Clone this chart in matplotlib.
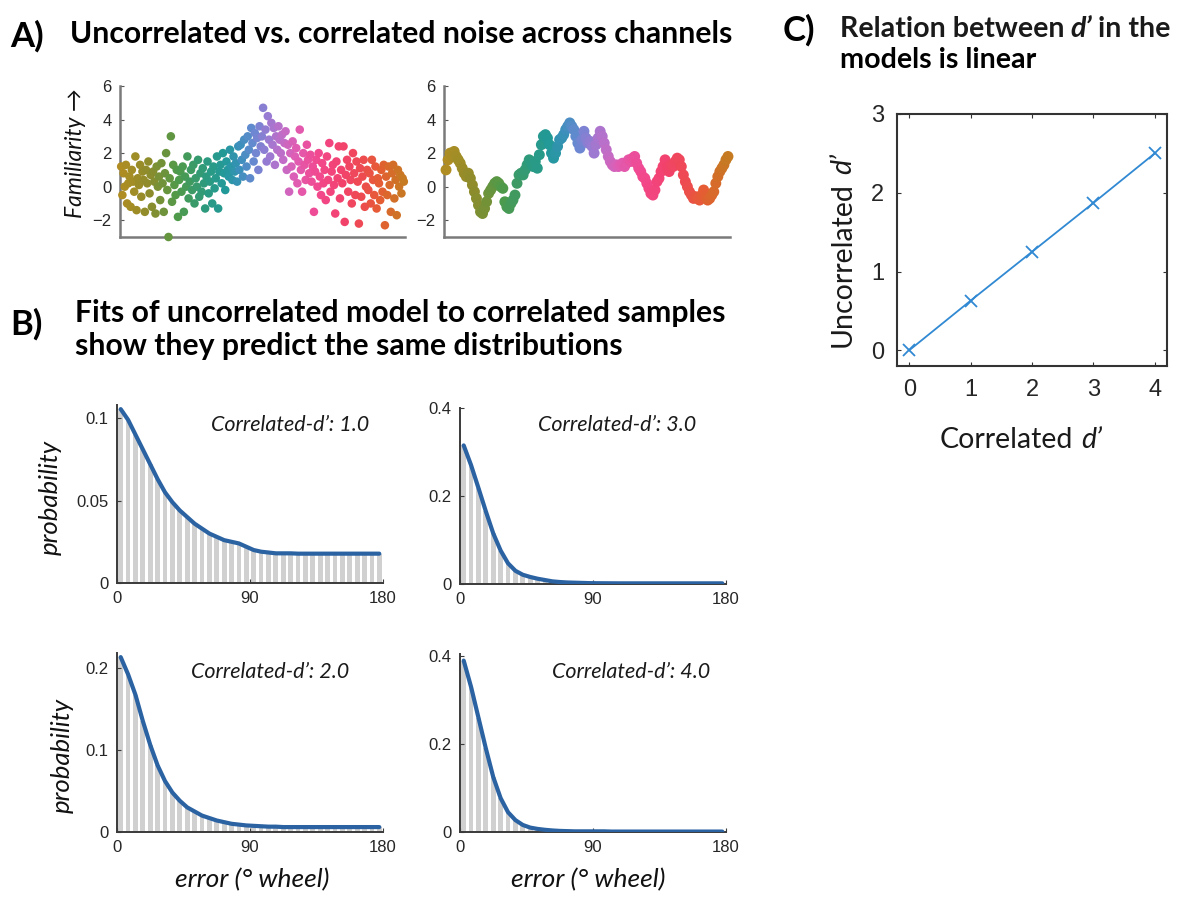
import numpy as np
import matplotlib
matplotlib.use('Agg')
import matplotlib.pyplot as plt
from matplotlib.colors import LinearSegmentedColormap

W, H = 1199, 900

# ---- panel A: familiarity samples across the colour wheel ----
uncorr_y = [
    1.2, -0.5, 0.8, 0.0, 1.3, -1.0, 0.2, 0.6, -1.2, 1.0, 0.3, -0.3, 1.8, -1.4, 0.5, 0.1, 1.3, -0.6, 0.9, 0.4,
    -1.5, 1.0, 0.2, 1.5, -0.4, 0.7, -1.2, 0.9, 0.3, -1.6, 1.2, 0.0, 0.6, -0.8, 1.4, 0.2, -1.5, 0.8, 2.0, -0.2,
    -3.0, 0.5, 3.0, -0.9, 1.3, 0.1, -0.5, 1.0, -1.8, 0.4, 0.9, -0.3, 1.2, -1.5, 0.6, 0.0, 1.8, -0.7, 0.3, 1.0,
    -0.2, 1.3, -1.0, 0.5, 0.0, 1.6, -0.6, 0.8, -0.3, 1.1, 0.2, -1.3, 0.6, 1.5, -0.4, 0.3, 0.9, -1.0, 1.2, -0.1,
    0.5, 1.8, -1.3, 0.9, 1.3, 0.2, 2.0, 0.8, -0.2, 1.5, 1.0, 0.6, 2.2, 1.2, 0.4, 1.8, 0.9, 1.4, 0.3, 2.4,
    1.0, 2.5, 1.6, 0.6, 2.8, 1.9, 1.2, 3.0, 2.2, 0.5, 3.5, 2.6, 1.5, 3.2, 2.0, 2.9, 1.0, 3.6, 2.4, 3.0,
    4.7, 2.2, 3.4, 1.5, 4.2, 2.8, 1.8, 3.8, 2.5, 3.5, 1.3, 3.0, 2.2, 3.6, 2.8, 2.0, 3.1, 1.6, 2.6, 3.3,
    1.0, 2.5, -0.3, 2.0, 1.2, 2.7, 0.6, 1.8, 2.3, 0.2, 1.5, 3.4, 1.0, -0.3, 2.0, 1.3, 0.4, 2.5, 1.6, 0.8,
    1.9, 0.3, 1.2, -1.5, 0.9, 1.6, 0.0, 2.0, 0.6, -0.5, 1.4, 0.2, 1.0, -0.8, 1.8, 0.4, 2.6, -0.3, 0.9, 1.3,
    0.1, -1.6, 1.5, 0.5, 2.4, -0.7, 1.0, 0.2, 2.4, -2.1, 0.7, 1.6, -0.3, 1.2, 0.4, -1.0, 2.0, 0.8, -0.5, 1.5,
    0.3, -2.2, 1.1, -0.6, 0.6, 1.6, -1.2, 0.0, 1.0, -0.2, 0.8, -1.0, 1.6, 0.4, -0.5, 1.2, -1.3, 0.5, 0.2, -0.8,
    1.0, -0.3, 1.3, -2.3, 0.6, -0.5, 1.2, 0.1, -1.5, 0.8, 1.3, -0.7, 0.4, -1.7, 1.0, 0.0, 0.7, -0.4, 0.5, 0.3,
]
corr_y = [
    1.0, 1.6, 2.0, 1.8, 2.1, 1.8, 1.6, 1.4, 1.1,
    0.8, 0.6, 0.8, 0.5, 0.1, -0.3, -0.7, -1.1, -1.5, -1.6,
    -1.3, -0.9, -0.4, -0.2, 0.0, 0.2, 0.3, 0.2, 0.0, -0.1,
    -0.9, -1.2, -1.3, -1.0, -0.8, -0.5, 0.2, 0.7, 0.8, 0.7,
    1.0, 1.3, 1.6, 1.4, 1.2, 1.5, 1.1, 1.9, 2.5, 3.0,
    3.1, 2.9, 2.5, 2.0, 1.7, 2.0, 2.4, 2.8, 2.9, 3.1,
    3.4, 3.6, 3.8, 3.6, 3.4, 3.0, 2.6, 2.3, 2.8, 3.3,
    2.9, 2.6, 2.7, 2.4, 2.0, 2.5, 2.9, 3.3, 3.0, 2.6,
    2.2, 1.8, 1.5, 1.3, 1.2, 1.3, 1.2, 1.3, 1.4, 1.2,
    1.4, 1.6, 1.5, 1.7, 1.8, 1.4, 1.1, 0.9, 0.6, 0.5,
    0.2, -0.1, -0.4, -0.5, -0.2, 0.3, 0.5, 0.9, 1.2, 1.6,
    1.2, 0.9, 1.3, 1.2, 1.5, 1.7, 1.6, 1.2, 0.7, 0.3,
    0.0, -0.3, -0.5, -0.7, -0.6, -0.7, -0.8, -0.5, -0.2, -0.6,
    -0.8, -0.7, -0.5, -0.3, 0.2, 0.6, 0.9, 1.1, 1.3, 1.6, 1.8,
]

# colour wheel used for the sample colours (position along wheel -> colour)
wheel_pos = [0.00, 0.10, 0.20, 0.30, 0.37, 0.42, 0.47, 0.52, 0.57, 0.62, 0.70, 0.78, 0.85, 0.92, 1.00]
wheel_hex = ['#b08d22', '#8c8c2c', '#4f9a4a', '#2c9a7e', '#22999a', '#3a90ba', '#6a88d2', '#9a7ad2',
             '#c06ec8', '#e05cb2', '#f2488e', '#f2426e', '#ee4a52', '#e45e32', '#c67a22']

# ---- panel B: error histograms and fitted curves (5 deg bins) ----
bin_centers = np.arange(2.5, 180, 5)
prob_d1 = [0.1055, 0.099, 0.090, 0.081, 0.072, 0.063, 0.055, 0.049, 0.044, 0.040, 0.036, 0.033,
           0.030, 0.028, 0.026, 0.025, 0.024, 0.022, 0.020, 0.019, 0.0185, 0.018, 0.018, 0.018,
           0.0178, 0.0178, 0.0178, 0.0178, 0.0178, 0.0178, 0.0178, 0.0178, 0.0178, 0.0178, 0.0178, 0.0178]
prob_d2 = [0.213, 0.192, 0.167, 0.135, 0.106, 0.081, 0.062, 0.048, 0.038, 0.030, 0.025, 0.020,
           0.017, 0.014, 0.012, 0.010, 0.009, 0.008, 0.0075, 0.007, 0.0065, 0.0065, 0.006, 0.006,
           0.006, 0.006, 0.006, 0.006, 0.006, 0.006, 0.006, 0.006, 0.006, 0.006, 0.006, 0.006]
prob_d3 = [0.315, 0.27, 0.218, 0.165, 0.115, 0.076, 0.047, 0.030, 0.021, 0.016, 0.012, 0.009,
           0.006, 0.0045, 0.0035, 0.003, 0.0025, 0.002, 0.0018, 0.0017, 0.0016, 0.0015, 0.0015, 0.0015,
           0.0015, 0.0015, 0.0015, 0.0015, 0.0015, 0.0015, 0.0015, 0.0015, 0.0015, 0.0015, 0.0015, 0.0015]
prob_d4 = [0.39, 0.33, 0.26, 0.19, 0.125, 0.077, 0.045, 0.027, 0.016, 0.010, 0.007, 0.005,
           0.0035, 0.0025, 0.002, 0.0015, 0.0015, 0.0015, 0.0015, 0.0015, 0.001, 0.001, 0.001, 0.001,
           0.001, 0.001, 0.001, 0.001, 0.001, 0.001, 0.001, 0.001, 0.001, 0.001, 0.001, 0.001]

# ---- panel C ----
corr_dprime = [0, 1, 2, 3, 4]
uncorr_dprime = [0, 0.63, 1.25, 1.87, 2.5]

plt.rcParams['font.family'] = ['Lato', 'DejaVu Sans']
TICKFONT = 'Liberation Sans'
TICKCOL = '#262626'
TITLE_SIZE = 21.7

fig = plt.figure(figsize=(W / 100, H / 100), dpi=100)
fig.patch.set_facecolor('white')
wheel = LinearSegmentedColormap.from_list('wheel', list(zip(wheel_pos, wheel_hex)))


def fx(px):
    return px / W


def fy(py):
    return 1 - py / H


def ax_px(l, t, r, b):
    return fig.add_axes([l / W, 1 - b / H, (r - l) / W, (b - t) / H])


def style_ticks(ax, size, col):
    ax.tick_params(direction='in', length=3, width=0.8, colors=col, labelsize=size, pad=6)
    for lab in ax.get_xticklabels() + ax.get_yticklabels():
        lab.set_fontfamily(TICKFONT)
        lab.set_color(TICKCOL)


def pieces(x, y, parts, size, vertical=False, gap=0.27):
    """Write consecutive text pieces with different styles (x, y in pixels)."""
    r = fig.canvas.get_renderer()
    pos = x if not vertical else y
    for s, weight, style in parts:
        if vertical:
            t = fig.text(fx(x), fy(pos), s, rotation=90, ha='center', va='bottom',
                         fontsize=size, fontweight=weight, fontstyle=style, color='#1a1a1a')
            pos -= t.get_window_extent(r).height + gap * size * 1.39
        else:
            t = fig.text(fx(pos), fy(y), s, ha='left', va='baseline',
                         fontsize=size, fontweight=weight, fontstyle=style, color='#1a1a1a')
            pos += t.get_window_extent(r).width + gap * size * 1.39


# ===== Panel A =====
for ax_box, vals, msize in [((120, 86, 405, 237), uncorr_y, 38), ((444, 86, 730, 237), corr_y, 62)]:
    ax = ax_px(*ax_box)
    n = len(vals)
    xs = np.arange(n)
    ax.scatter(xs, vals, s=msize, c=xs / (n - 1), cmap=wheel, vmin=0, vmax=1,
               edgecolors='none', clip_on=False, zorder=3)
    ax.set_xlim(-1, n)
    ax.set_ylim(-3, 6)
    ax.set_yticks([-2, 0, 2, 4, 6])
    ax.set_xticks([])
    for sp in ['top', 'right']:
        ax.spines[sp].set_visible(False)
    for sp in ['left', 'bottom']:
        ax.spines[sp].set_color('#7a7a7a')
        ax.spines[sp].set_linewidth(1.8)
    style_ticks(ax, 12, '#555555')

fig.text(fx(76), fy(153), 'Familiarity \u2192', rotation=90, ha='center', va='center',
         fontsize=16.5, fontstyle='italic', color='#111111')
fig.text(fx(10), fy(47), 'A)', fontsize=25, fontweight='bold', ha='left', va='baseline')
fig.text(fx(70), fy(43), 'Uncorrelated vs. correlated noise across channels', fontsize=TITLE_SIZE,
         fontweight='bold', ha='left', va='baseline')

# ===== Panel B =====
panels = [
    ((117, 405, 383, 583), prob_d1, 0.108, [0, 0.05, 0.1], ['0', '0.05', '0.1'], '1.0', (290, 425)),
    ((460, 408, 726, 584), prob_d3, 0.4, [0, 0.2, 0.4], ['0', '0.2', '0.4'], '3.0', (617, 425)),
    ((117, 653, 383, 832), prob_d2, 0.218, [0, 0.1, 0.2], ['0', '0.1', '0.2'], '2.0', (270, 672)),
    ((460, 654, 726, 832), prob_d4, 0.405, [0, 0.2, 0.4], ['0', '0.2', '0.4'], '4.0', (631, 672)),
]
for box, prob, ytop, yt, ytl, lab, (tx, ty) in panels:
    ax = ax_px(*box)
    ax.bar(bin_centers, prob, width=3.2, color='#d0d0d0', edgecolor='none', zorder=1)
    ax.plot(bin_centers, prob, color='#2b62a2', lw=3, zorder=3, solid_capstyle='round')
    ax.set_xlim(0, 180)
    ax.set_ylim(0, ytop)
    ax.set_xticks([0, 90, 180])
    ax.set_xticklabels(['0', '90', '180'])
    ax.set_yticks(yt)
    ax.set_yticklabels(ytl)
    for sp in ['top', 'right']:
        ax.spines[sp].set_visible(False)
    for sp in ['left', 'bottom']:
        ax.spines[sp].set_color('#3a3a3a')
        ax.spines[sp].set_linewidth(1.4)
    style_ticks(ax, 12, '#3a3a3a')
    fig.text(fx(tx), fy(ty), "Correlated-d\u2019: " + lab, ha='center', va='center',
             fontsize=15.5, fontstyle='italic', color='#1a1a1a')

fig.text(fx(50), fy(497), 'probability', rotation=90, ha='center', va='center',
         fontsize=18.5, fontstyle='italic', color='#111111')
fig.text(fx(62), fy(755), 'probability', rotation=90, ha='center', va='center',
         fontsize=18.5, fontstyle='italic', color='#111111')
for cx in [252, 588]:
    fig.text(fx(cx), fy(880), 'error (\u00b0 wheel)', ha='center', va='center',
             fontsize=19, fontstyle='italic', color='#111111')

fig.text(fx(10), fy(335), 'B)', fontsize=25, fontweight='bold', ha='left', va='baseline')
fig.text(fx(75), fy(322), 'Fits of uncorrelated model to correlated samples', fontsize=TITLE_SIZE,
         fontweight='bold', ha='left', va='baseline')
fig.text(fx(75), fy(355), 'show they predict the same distributions', fontsize=TITLE_SIZE,
         fontweight='bold', ha='left', va='baseline')

# ===== Panel C =====
axc = ax_px(897, 114, 1167, 366)
axc.plot(corr_dprime, uncorr_dprime, color='#3089d2', lw=1.3, marker='x', ms=9, mew=1.3)
axc.set_xlim(-0.2, 4.2)
axc.set_ylim(-0.2, 3)
axc.set_xticks([0, 1, 2, 3, 4])
axc.set_yticks([0, 1, 2, 3])
for sp in axc.spines.values():
    sp.set_color('#333333')
    sp.set_linewidth(1.5)
axc.tick_params(top=True, right=True)
style_ticks(axc, 17, '#333333')
axc.tick_params(pad=9)

pieces(940, 448, [('Correlated', 'normal', 'normal'), ('d\u2019', 'normal', 'italic')], 20.5)
pieces(843, 347, [('Uncorrelated', 'normal', 'normal'), ('d\u2019', 'normal', 'italic')], 20.5,
       vertical=True)

fig.text(fx(783), fy(41), 'C)', fontsize=25, fontweight='bold', ha='left', va='baseline')
pieces(840, 37, [('Relation between', 'bold', 'normal'), ('d\u2019', 'bold', 'italic'),
                 ('in the', 'bold', 'normal')], 20.6, gap=0.2)
fig.text(fx(840), fy(68), 'models is linear', fontsize=20.6, fontweight='bold',
         ha='left', va='baseline')

fig.savefig('out.png', dpi=100)
